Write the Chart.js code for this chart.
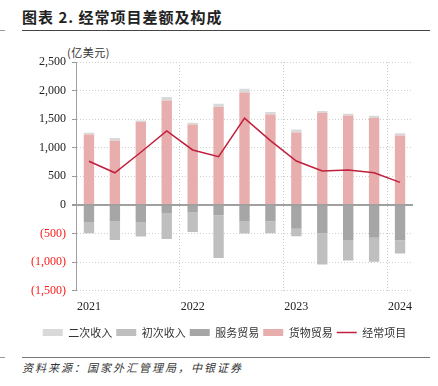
<!DOCTYPE html>
<html>
<head>
<meta charset="utf-8">
<script src="https://cdn.jsdelivr.net/npm/chart.js@4"></script>
<style>
	body { margin: 0; width: 438px; height: 386px; background: #fff; position: relative; overflow: hidden; font-family: "Noto Sans CJK SC", sans-serif; color: #222; }
	.title { position: absolute; left: 22px; top: 6px; font-size: 15px; font-weight: bold; letter-spacing: 1px; white-space: nowrap; }
	.rule { position: absolute; height: 1px; background: #444; }
	.unit { position: absolute; left: 67px; top: 44px; font-size: 11px; letter-spacing: 0.5px; color: #333; }
	.source { position: absolute; left: 22px; top: 359px; font-size: 11px; font-style: italic; letter-spacing: 2px; color: #333; white-space: nowrap; }
	#box { position: absolute; left: 0; top: 46px; width: 438px; height: 302px; }
</style>
</head>
<body>
<div class="title">图表 2. 经常项目差额及构成</div>
<div class="rule" style="left:22px;top:30px;width:408px;"></div>
<div class="rule" style="left:0;top:30px;width:5px;background:#999;"></div>
<div class="unit">(亿美元)</div>
<div id="box"><canvas id="c"></canvas></div>
<div class="rule" style="left:22px;top:357px;width:408px;background:#777;"></div>
<div class="rule" style="left:0;top:357px;width:5px;background:#999;"></div>
<div class="source">资料来源：国家外汇管理局，中银证券</div>
<script>
// quarterly, 2021Q1 .. 2024Q1 (亿美元)
var quarters = ['2021Q1','2021Q2','2021Q3','2021Q4','2022Q1','2022Q2','2022Q3','2022Q4',
                '2023Q1','2023Q2','2023Q3','2023Q4','2024Q1'];
var goods     = [1230, 1124, 1448, 1827, 1406, 1711, 1968, 1581, 1265, 1611, 1564, 1518, 1212];
var secondary = [30, 45, 28, 60, 29, 58, 65, 42, 53, 30, 30, 40, 42];
var services  = [-299, -281, -299, -141, -134, -181, -281, -287, -416, -498, -615, -574, -621];
var primary   = [-199, -334, -256, -456, -340, -750, -222, -211, -135, -544, -357, -422, -228];
var current   = [763, 562, 921, 1295, 961, 843, 1518, 1125, 768, 592, 610, 562, 394];
var yTicks = [-1500, -1000, -500, 0, 500, 1000, 1500, 2000, 2500];

// legend order differs from stacking order
var legendRank = {'二次收入': 0, '初次收入': 1, '服务贸易': 2, '货物贸易': 3, '经常项目': 4};

function fmt(v) {
	var s = Math.abs(v).toLocaleString('en-US');
	return v < 0 ? '(' + s + ')' : s;
}

var serif = "'Liberation Serif', 'Times New Roman', serif";

function bar(label, data, color) {
	return {type: 'bar', label: label, data: data, backgroundColor: color, stack: 'a',
		barPercentage: 0.4, categoryPercentage: 1, pointStyle: 'rect'};
}

// legend sits a bit right of the plot centre in the original
var legendShift = {
	id: 'legendShift',
	afterLayout: function(chart) {
		if (chart.legend) { chart.legend.left += 18; chart.legend.right += 18; }
	}
};

new Chart(document.getElementById('c'), {
	plugins: [legendShift],
	data: {
		labels: quarters,
		datasets: [
			bar('货物贸易', goods, '#e8adad'),
			bar('二次收入', secondary, '#d9d9d9'),
			bar('服务贸易', services, '#a6a6a6'),
			bar('初次收入', primary, '#bfbfbf'),
			{type: 'line', label: '经常项目', data: current, stack: 'line', order: -1,
				borderColor: '#c0203e', backgroundColor: '#c0203e', borderWidth: 1.5,
				pointRadius: 0, tension: 0, pointStyle: 'line'}
		]
	},
	options: {
		responsive: true,
		maintainAspectRatio: false,
		animation: false,
		layout: {padding: {top: 16, right: 25, left: 0, bottom: 0}},
		plugins: {
			tooltip: {enabled: false},
			legend: {
				position: 'bottom',
				labels: {
					usePointStyle: true, pointStyleWidth: 20, boxHeight: 7, padding: 4,
					color: '#333', font: {family: "'Noto Sans CJK SC', sans-serif", size: 11},
					sort: function(a, b) { return legendRank[a.text] - legendRank[b.text]; }
				}
			}
		},
		scales: {
			x: {
				stacked: true,
				offset: true,
				grid: {
					offset: true, drawTicks: false,
					color: function(ctx) { return (ctx.index % 4 === 0 && ctx.index > 0) ? '#c8c8c8' : 'transparent'; }
				},
				border: {display: false, dash: [1, 2]},
				ticks: {
					autoSkip: false, maxRotation: 0, padding: 9, color: '#222',
					font: {family: serif, size: 12},
					callback: function(v, i) { return i % 4 === 0 ? quarters[i].slice(0, 4) : ''; }
				}
			},
			y: {
				stacked: true,
				min: -1500, max: 2500,
				afterFit: function(s) { s.width = 76; },
				afterBuildTicks: function(s) { s.ticks = yTicks.map(function(v) { return {value: v}; }); },
				grid: {
					tickLength: 4,
					tickColor: '#999',
					color: function(ctx) { return ctx.tick && ctx.tick.value === 0 ? '#a0a0a0' : '#cfcfcf'; },
					lineWidth: function(ctx) { return ctx.tick && ctx.tick.value === 0 ? 2 : 1; }
				},
				border: {
					color: '#a0a0a0',
					dash: function(ctx) { return ctx.type === 'tick' && ctx.tick.value !== 0 ? [1, 2] : []; }
				},
				ticks: {
					padding: 6,
					font: {family: serif, size: 12},
					color: function(ctx) { return ctx.tick.value < 0 ? '#ff1a1a' : '#222'; },
					callback: function(v) { return fmt(v); }
				}
			}
		}
	}
});
</script>
</body>
</html>
